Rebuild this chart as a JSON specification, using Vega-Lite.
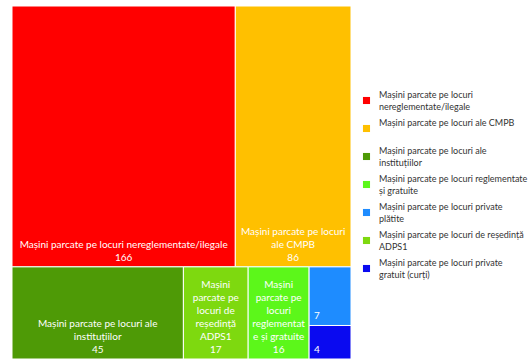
{
  "$schema": "https://vega.github.io/schema/vega-lite/v6.json",
  "width": 339,
  "height": 353,
  "autosize": {"type": "none"},
  "padding": {"left": 12, "top": 6, "right": 181, "bottom": 0},
  "background": "white",
  "config": {
    "view": {"stroke": null},
    "font": "Lato",
    "style": {"guide-label": {"lineHeight": 12.5, "dy": -6}}
  },
  "data": {
    "values": [
      {"legend": "Mașini parcate pe locuri|nereglementate/ilegale", "cell": "Mașini parcate pe locuri nereglementate/ilegale", "value": 166, "row": 1, "col": 1},
      {"legend": "Mașini parcate pe locuri ale CMPB", "cell": "Mașini parcate pe locuri|ale CMPB", "value": 86, "row": 1, "col": 2},
      {"legend": "Mașini parcate pe locuri ale|instituțiilor", "cell": "Mașini parcate pe locuri ale|instituțiilor", "value": 45, "row": 2, "col": 1},
      {"legend": "Mașini parcate pe locuri de reședință|ADPS1", "cell": "Mașini|parcate pe|locuri de|reședință|ADPS1", "value": 17, "row": 2, "col": 2},
      {"legend": "Mașini parcate pe locuri reglementate|și gratuite", "cell": "Mașini|parcate pe|locuri|reglementat|e și gratuite", "value": 16, "row": 2, "col": 3},
      {"legend": "Mașini parcate pe locuri private|plătite", "cell": "", "value": 7, "row": 2, "col": 4},
      {"legend": "Mașini parcate pe locuri private|gratuit (curți)", "cell": "", "value": 4, "row": 2, "col": 4}
    ]
  },
  "transform": [
    {"joinaggregate": [{"op": "sum", "field": "value", "as": "total"}]},
    {"joinaggregate": [{"op": "sum", "field": "value", "as": "rowSum"}], "groupby": ["row"]},
    {"joinaggregate": [{"op": "sum", "field": "value", "as": "colSum"}], "groupby": ["row", "col"]},
    {"window": [{"op": "sum", "field": "value", "as": "cumAll"}], "sort": [{"field": "row", "order": "ascending"}, {"field": "col", "order": "ascending"}, {"field": "value", "order": "descending"}], "frame": [null, 0]},
    {"joinaggregate": [{"op": "max", "field": "cumAll", "as": "rowEnd"}], "groupby": ["row"]},
    {"window": [{"op": "sum", "field": "value", "as": "cumRow"}], "groupby": ["row"], "sort": [{"field": "col", "order": "ascending"}, {"field": "value", "order": "descending"}], "frame": [null, 0]},
    {"joinaggregate": [{"op": "max", "field": "cumRow", "as": "colEnd"}], "groupby": ["row", "col"]},
    {"window": [{"op": "sum", "field": "value", "as": "cumCol"}], "groupby": ["row", "col"], "sort": [{"field": "value", "order": "descending"}], "frame": [null, 0]},
    {"calculate": "(datum.colEnd - datum.colSum) / datum.rowSum", "as": "x0"},
    {"calculate": "datum.colEnd / datum.rowSum", "as": "x1"},
    {"calculate": "(datum.x0 + datum.x1) / 2", "as": "xc"},
    {"calculate": "(datum.rowEnd - datum.rowSum) / datum.total + (datum.cumCol - datum.value) / datum.colSum * datum.rowSum / datum.total", "as": "y0"},
    {"calculate": "datum.y0 + datum.value / datum.colSum * datum.rowSum / datum.total", "as": "y1"},
    {"calculate": "datum.cell === '' ? '' + datum.value : datum.cell + '|' + datum.value", "as": "txt"},
    {"calculate": "join(reverse(split(datum.txt, '|')), '|')", "as": "txtRev"}
  ],
  "layer": [
    {
      "mark": {"type": "rect", "stroke": "white", "strokeWidth": 1},
      "encoding": {
        "x": {"field": "x0", "type": "quantitative", "scale": {"domain": [0, 1], "nice": false, "zero": false}, "axis": null},
        "x2": {"field": "x1"},
        "y": {"field": "y0", "type": "quantitative", "scale": {"domain": [0, 1], "nice": false, "zero": false, "reverse": true}, "axis": null},
        "y2": {"field": "y1"},
        "color": {
          "field": "legend",
          "type": "nominal",
          "scale": {
            "domain": [
              "Mașini parcate pe locuri|nereglementate/ilegale",
              "Mașini parcate pe locuri ale CMPB",
              "Mașini parcate pe locuri ale|instituțiilor",
              "Mașini parcate pe locuri reglementate|și gratuite",
              "Mașini parcate pe locuri private|plătite",
              "Mașini parcate pe locuri de reședință|ADPS1",
              "Mașini parcate pe locuri private|gratuit (curți)"
            ],
            "range": ["#FF0000", "#FFC000", "#4E9A06", "#5CF71A", "#1E8CFF", "#7ED90F", "#0A0AF0"]
          },
          "legend": {
            "title": null,
            "orient": "none",
            "legendX": 350,
            "legendY": 90,
            "padding": 0,
            "symbolType": "square",
            "symbolSize": 50,
            "symbolStrokeWidth": 0,
            "labelExpr": "split(datum.label, '|')",
            "labelFont": "Lato",
            "labelFontSize": 9,
            "labelColor": "#333333",
            "labelOffset": 8,
            "labelLimit": 200,
            "gridAlign": "all",
            "rowPadding": 6
          }
        }
      }
    },
    {
      "transform": [{"filter": "datum.value >= 10"}],
      "mark": {"type": "text", "align": "center", "baseline": "bottom", "dy": -4, "lineBreak": "|", "color": "white", "fontSize": 10, "lineHeight": -13, "font": "Lato"},
      "encoding": {
        "x": {"field": "xc", "type": "quantitative"},
        "y": {"field": "y1", "type": "quantitative"},
        "text": {"field": "txtRev", "type": "nominal"}
      }
    },
    {
      "transform": [{"filter": "datum.value < 10"}],
      "mark": {"type": "text", "align": "left", "baseline": "bottom", "dx": 5, "dy": -4, "lineBreak": "|", "color": "white", "fontSize": 10, "lineHeight": -13, "font": "Lato"},
      "encoding": {
        "x": {"field": "x0", "type": "quantitative"},
        "y": {"field": "y1", "type": "quantitative"},
        "text": {"field": "txtRev", "type": "nominal"}
      }
    }
  ]
}
